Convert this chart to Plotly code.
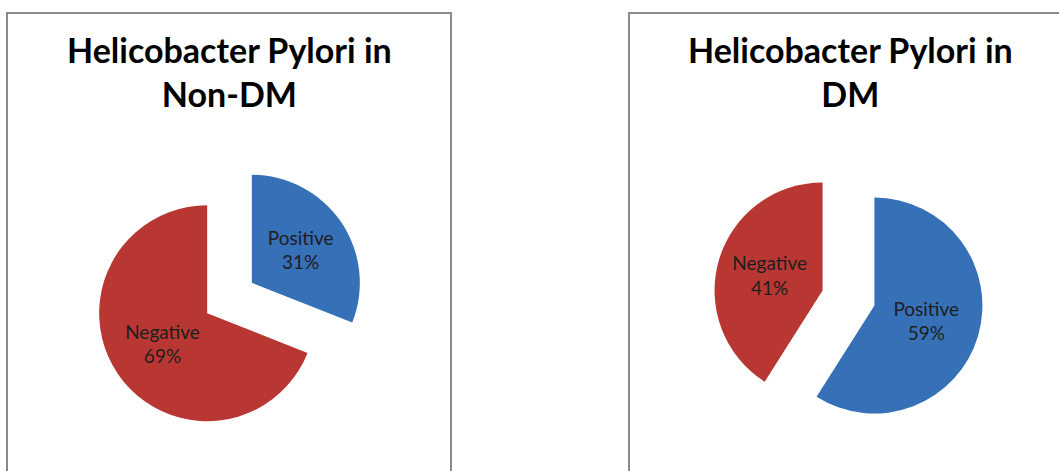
import plotly.graph_objects as go

# ---- data ----
categories = ["Positive", "Negative"]
non_dm_values = [31, 69]
dm_values = [59, 41]
titles = ["Helicobacter Pylori in<br>Non-DM", "Helicobacter Pylori in<br>DM"]

W, H = 1059, 471
colors = ["#3670b6", "#b93733"]

def px_x(v):
    return v / W

def px_y(v):
    return 1 - v / H

fig = go.Figure()

pie_common = dict(
    labels=categories,
    sort=False,
    direction="clockwise",
    rotation=0,
    pull=[0.25, 0.25],
    marker=dict(colors=colors, line=dict(width=0)),
    texttemplate="%{label}<br>%{percent:.0%}",
    textposition="inside",
    insidetextorientation="horizontal",
    textfont=dict(family="Lato, Open Sans, sans-serif", size=19, color="#1e1e1e"),
    hoverinfo="label+percent",
    showlegend=False,
)

fig.add_trace(go.Pie(
    values=non_dm_values,
    domain=dict(x=[px_x(94.5), px_x(364.5)], y=[px_y(433), px_y(163)]),
    **pie_common,
))
fig.add_trace(go.Pie(
    values=dm_values,
    domain=dict(x=[px_x(713.5), px_x(983.5)], y=[px_y(433), px_y(163)]),
    **pie_common,
))

shapes = [
    dict(type="rect", xref="paper", yref="paper",
         x0=px_x(7), x1=px_x(451), y0=px_y(490), y1=px_y(13),
         line=dict(color="#8a8a8a", width=2), fillcolor="rgba(0,0,0,0)"),
    dict(type="rect", xref="paper", yref="paper",
         x0=px_x(629), x1=px_x(1075), y0=px_y(490), y1=px_y(13),
         line=dict(color="#8a8a8a", width=2), fillcolor="rgba(0,0,0,0)"),
]

title_font = dict(family="Lato, Open Sans, sans-serif", size=34, color="#000000")
annotations = [
    dict(text="<b>" + titles[0] + "</b>", xref="paper", yref="paper",
         x=px_x(229.5), y=px_y(27), xanchor="center", yanchor="top",
         showarrow=False, align="center", font=title_font),
    dict(text="<b>" + titles[1] + "</b>", xref="paper", yref="paper",
         x=px_x(850), y=px_y(27), xanchor="center", yanchor="top",
         showarrow=False, align="center", font=title_font),
]

fig.update_layout(
    width=W, height=H,
    margin=dict(l=0, r=0, t=0, b=0),
    paper_bgcolor="#ffffff",
    plot_bgcolor="#ffffff",
    shapes=shapes,
    annotations=annotations,
    showlegend=False,
    uniformtext=dict(minsize=19, mode="show"),
)

fig.write_html("out.html")
